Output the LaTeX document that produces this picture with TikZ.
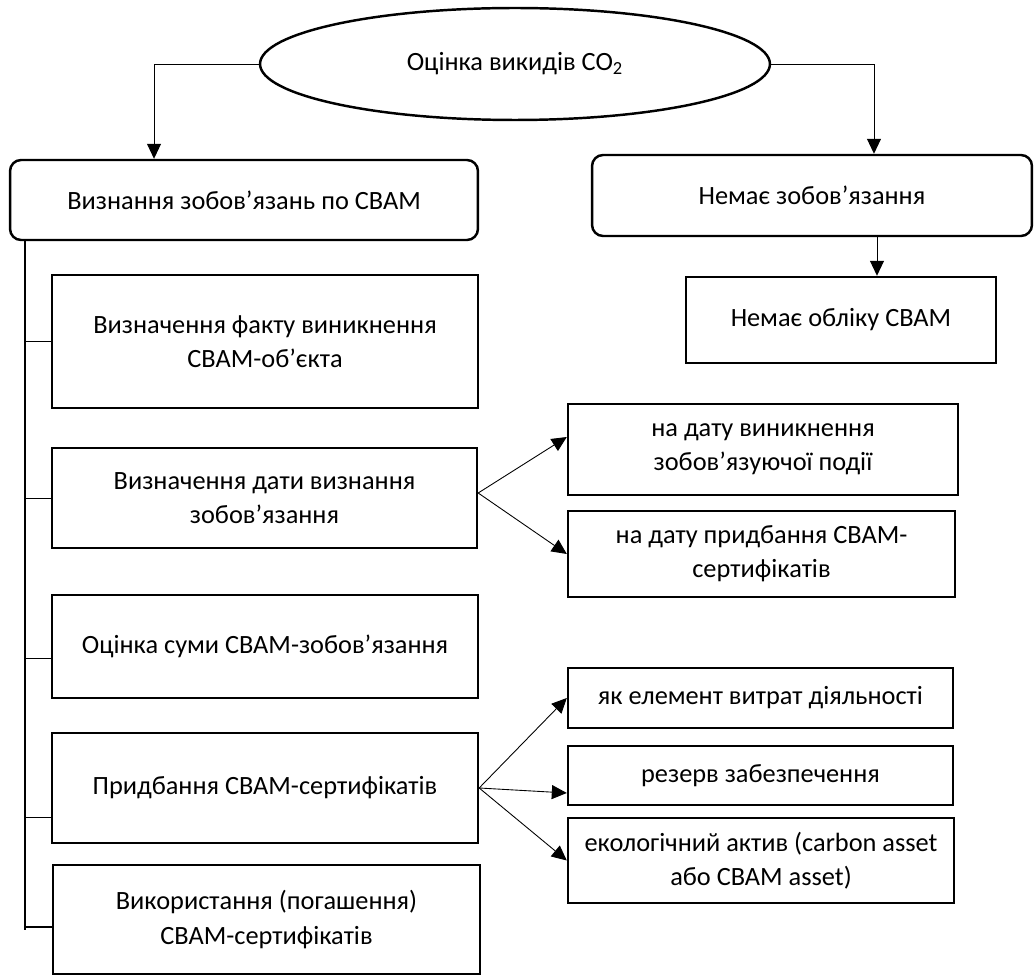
\documentclass[tikz,border=0pt]{standalone}
\usepackage{fontspec}
\setmainfont{Carlito}
\usepackage{tikz}
\usetikzlibrary{shapes.geometric,arrows.meta}

\begin{document}
\begin{tikzpicture}[x=0.02cm,y=-0.02cm,
  font=\fontsize{15}{19.5}\selectfont,
  box/.style={draw,line width=1.4pt,align=center,inner sep=0pt},
  rbox/.style={box,rounded corners=0.22cm},
  arr/.style={line width=0.5pt,-{Triangle[length=0.3cm,width=0.28cm]}},
  tick/.style={line width=0.5pt},
  trunk/.style={line width=1.1pt}]
  \useasboundingbox (0,0) rectangle (1036,976);
  % top level
  \node[draw,ellipse,line width=1.4pt,minimum width=10.2cm,minimum height=2.24cm,inner sep=0pt]
    (est) at (515,64) {Оцінка викидів CO\textsubscript{2}};
  \node[rbox,minimum width=9.36cm,minimum height=1.6cm] (rec) at (244,200)
    {Визнання зобов’язань по СВАМ};
  \node[rbox,minimum width=8.8cm,minimum height=1.62cm] (no) at (812,195.5)
    {Немає зобов’язання};
  \node[box,minimum width=6.2cm,minimum height=1.72cm] (noacc) at (841,320)
    {Немає обліку СВАМ};
  % left column
  \node[box,minimum width=8.52cm,minimum height=2.66cm] (b1) at (265,341.5)
    {Визначення факту виникнення\\СВАМ-об’єкта};
  \node[box,minimum width=8.5cm,minimum height=2cm] (b2) at (264.5,498)
    {Визначення дати визнання\\зобов’язання};
  \node[box,minimum width=8.52cm,minimum height=2.06cm] (b3) at (265,646.5)
    {Оцінка суми СВАМ-зобов’язання};
  \node[box,minimum width=8.52cm,minimum height=2.2cm] (b4) at (265,788)
    {Придбання СВАМ-сертифікатів};
  \node[box,minimum width=8.54cm,minimum height=2.18cm] (b5) at (266.5,919.5)
    {Використання (погашення)\\СВАМ-сертифікатів};
  % right column
  \node[box,minimum width=7.8cm,minimum height=1.82cm] (d1) at (763,449.5)
    {на дату виникнення\\зобов’язуючої події};
  \node[box,minimum width=7.74cm,minimum height=1.72cm] (d2) at (761.5,554)
    {на дату придбання СВАМ-\\сертифікатів};
  \node[box,minimum width=7.7cm,minimum height=1.2cm] (e1) at (760.5,698)
    {як елемент витрат діяльності};
  \node[box,minimum width=7.7cm,minimum height=1.18cm] (e2) at (760.5,775.5)
    {резерв забезпечення};
  \node[box,minimum width=7.72cm,minimum height=1.7cm] (e3) at (761,860.5)
    {екологічний актив (carbon asset\\або СВАМ asset)};
  % connectors from the ellipse
  \draw[arr] (est.west) -| ([xshift=-1.8cm]rec.north);
  \draw[arr] (est.east) -| ([xshift=1.24cm]no.north);
  \coordinate (nx) at ([xshift=0.72cm]noacc.north);
  \draw[arr] (nx |- no.south) -- (nx);
  % trunk and ticks
  \coordinate (tb) at (25,930);
  \draw[trunk] (rec.south -| tb) -- (tb);
  \coordinate (t3) at ([yshift=-0.23cm]b3.west);
  \coordinate (t4) at ([yshift=-0.58cm]b4.west);
  \coordinate (t5) at ([yshift=-0.15cm]b5.west);
  \draw[trunk] (b1.west) -- (b1.west -| tb);
  \draw[tick] (b2.west) -- (b2.west -| tb);
  \draw[tick] (t3) -- (t3 -| tb);
  \draw[tick] (t4) -- (t4 -| tb);
  \draw[trunk] (t5) -- (t5 -| tb);
  % branches
  \coordinate (o2) at ([yshift=0.1cm]b2.east);
  \draw[arr] (o2) -- ([yshift=0.25cm]d1.west);
  \draw[arr] (o2) -- (d2.west);
  \draw[arr] (b4.east) -- (e1.west);
  \draw[arr] (b4.east) -- ([yshift=-0.35cm]e2.west);
  \draw[arr] (b4.east) -- (e3.west);
\end{tikzpicture}
\end{document}
